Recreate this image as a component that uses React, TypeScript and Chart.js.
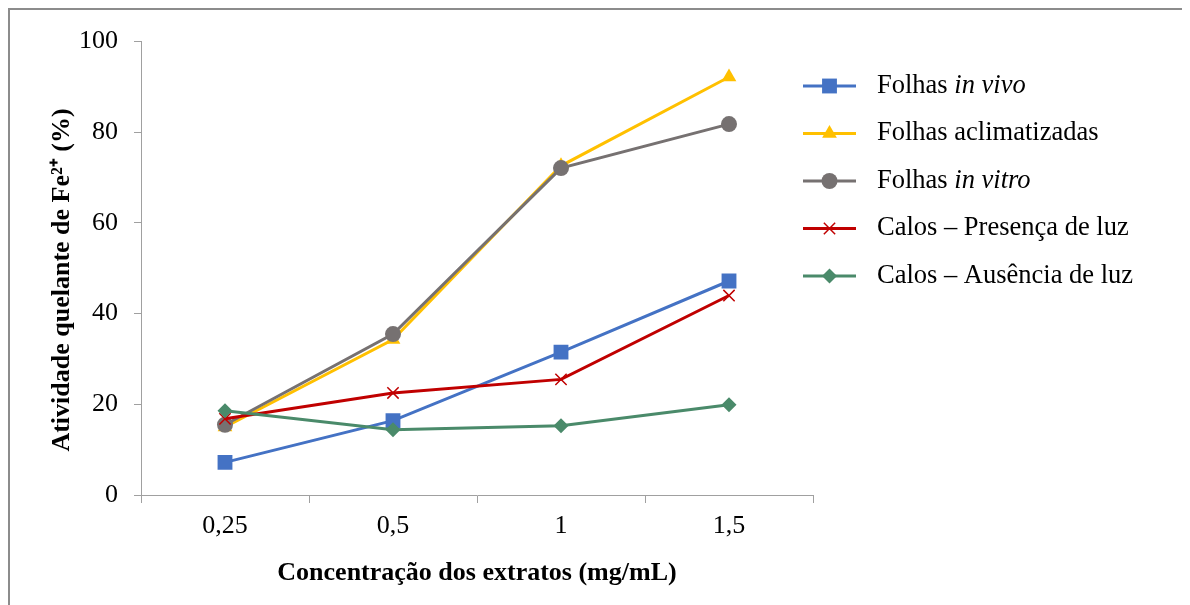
import React, { useEffect, useRef } from 'react';
import { Chart, registerables } from 'chart.js';

Chart.register(...registerables);

const categories = ['0,25', '0,5', '1', '1,5'];
const folhasInVivo = [7.2, 16.4, 31.5, 47.2];
const folhasAclimatizadas = [15.0, 34.3, 72.6, 92.2];
const folhasInVitro = [15.5, 35.5, 72.1, 81.8];
const calosPresenca = [16.8, 22.5, 25.5, 44.0];
const calosAusencia = [18.6, 14.4, 15.3, 19.9];

const yTicks = [0, 20, 40, 60, 80, 100];

const xTitle = 'Concentração dos extratos (mg/mL)';
const yTitle = 'Atividade quelante de Fe²⁺ (%)';

// legend label parts: [normal, italic]
const legendLabels: [string, string][] = [
  ['Folhas ', 'in vivo'],
  ['Folhas aclimatizadas', ''],
  ['Folhas ', 'in vitro'],
  ['Calos – Presença de luz', ''],
  ['Calos – Ausência de luz', ''],
];

const colors = ['#4472C4', '#FFC000', '#767171', '#C00000', '#4A8A6A'];
const styles = ['rect', 'triangle', 'circle', 'crossRot', 'rectRot'];
const radii = [10.5, 8.5, 8, 8, 7.5];

const FONT = '"Liberation Serif", "Times New Roman", serif';

function drawMarker(ctx: CanvasRenderingContext2D, style: string, x: number, y: number, r: number, color: string) {
  ctx.save();
  ctx.fillStyle = color;
  ctx.strokeStyle = color;
  ctx.beginPath();
  if (style === 'rect') {
    const s = Math.SQRT1_2 * r;
    ctx.rect(x - s, y - s, 2 * s, 2 * s);
    ctx.fill();
  } else if (style === 'triangle') {
    ctx.moveTo(x, y - r);
    ctx.lineTo(x + r * Math.sin(Math.PI / 3), y + r * 0.5);
    ctx.lineTo(x - r * Math.sin(Math.PI / 3), y + r * 0.5);
    ctx.closePath();
    ctx.fill();
  } else if (style === 'circle') {
    ctx.arc(x, y, r, 0, Math.PI * 2);
    ctx.fill();
  } else if (style === 'crossRot') {
    const d = r * Math.SQRT1_2;
    ctx.lineWidth = 1.5;
    ctx.moveTo(x - d, y - d);
    ctx.lineTo(x + d, y + d);
    ctx.moveTo(x - d, y + d);
    ctx.lineTo(x + d, y - d);
    ctx.stroke();
  } else if (style === 'rectRot') {
    ctx.moveTo(x, y - r);
    ctx.lineTo(x + r, y);
    ctx.lineTo(x, y + r);
    ctx.lineTo(x - r, y);
    ctx.closePath();
    ctx.fill();
  }
  ctx.restore();
}

const legendPlugin = {
  id: 'customLegend',
  afterDraw(chart: any) {
    const ctx: CanvasRenderingContext2D = chart.ctx;
    const lineX0 = 793;
    const lineX1 = 846;
    const textX = 867;
    const rowY0 = 76;
    const rowGap = 47.5;
    legendLabels.forEach((parts, i) => {
      const y = rowY0 + i * rowGap;
      ctx.save();
      ctx.strokeStyle = colors[i];
      ctx.lineWidth = 3;
      ctx.beginPath();
      ctx.moveTo(lineX0, y);
      ctx.lineTo(lineX1, y);
      ctx.stroke();
      ctx.restore();
      drawMarker(ctx, styles[i], (lineX0 + lineX1) / 2, y, radii[i], colors[i]);
      ctx.save();
      ctx.fillStyle = '#000';
      ctx.textBaseline = 'middle';
      ctx.textAlign = 'left';
      ctx.font = `26.5px ${FONT}`;
      ctx.fillText(parts[0], textX, y);
      const w = ctx.measureText(parts[0]).width;
      if (parts[1]) {
        ctx.font = `italic 26.5px ${FONT}`;
        ctx.fillText(parts[1], textX + w, y);
      }
      ctx.restore();
    });

    // y-axis title
    ctx.save();
    ctx.translate(52, 270);
    ctx.rotate(-Math.PI / 2);
    ctx.fillStyle = '#000';
    ctx.textAlign = 'center';
    ctx.textBaseline = 'middle';
    ctx.font = `bold 26px ${FONT}`;
    ctx.fillText(yTitle, 0, 0);
    ctx.restore();
  },
};

export default function App() {
  const ref = useRef<HTMLCanvasElement | null>(null);
  useEffect(() => {
    if (!ref.current) return;
    const series = [folhasInVivo, folhasAclimatizadas, folhasInVitro, calosPresenca, calosAusencia];
    const chart = new Chart(ref.current, {
      type: 'line',
      data: {
        labels: categories,
        datasets: series.map((d, i) => ({
          label: legendLabels[i].join(''),
          data: d,
          borderColor: colors[i],
          backgroundColor: colors[i],
          pointBackgroundColor: colors[i],
          pointBorderColor: colors[i],
          pointBorderWidth: styles[i] === 'crossRot' ? 1.5 : 0,
          pointStyle: styles[i] as any,
          pointRadius: radii[i],
          borderWidth: 3,
          tension: 0,
          order: series.length - i,
        })),
      },
      options: {
        animation: false,
        responsive: false,
        maintainAspectRatio: false,
        layout: { padding: { left: 38, top: 28, right: 377, bottom: 15 } },
        plugins: {
          legend: { display: false },
          tooltip: { enabled: false },
        },
        scales: {
          x: {
            offset: true,
            grid: { drawOnChartArea: false, drawTicks: true, tickLength: 8, offset: true, color: '#A0A0A0', lineWidth: 1 },
            border: { display: true, color: '#A0A0A0', width: 1 },
            ticks: { color: '#000', font: { family: FONT, size: 26 }, padding: 8, maxRotation: 0 },
            title: {
              display: true,
              text: xTitle,
              color: '#000',
              font: { family: FONT, size: 26, weight: 'bold' },
              padding: { top: 0, bottom: 1 },
            },
            afterFit: (s: any) => { s.height = 95; },
          },
          y: {
            min: 0,
            max: 100,
            afterBuildTicks: (s: any) => { s.ticks = yTicks.map((v) => ({ value: v })); },
            grid: { drawOnChartArea: false, drawTicks: true, tickLength: 7, color: '#A0A0A0', lineWidth: 1 },
            border: { display: true, color: '#A0A0A0', width: 1 },
            ticks: { color: '#000', font: { family: FONT, size: 26 }, padding: 16 },
            title: { display: false },
            afterFit: (s: any) => { s.width = 93; },
          },
        },
      },
      plugins: [legendPlugin],
    });
    return () => chart.destroy();
  }, []);
  return (
    <div
      style={{
        width: 1182,
        height: 597,
        boxSizing: 'border-box',
        borderTop: '2px solid #8C8C8C',
        borderLeft: '2px solid #8C8C8C',
        position: 'relative',
        background: '#fff',
      }}
    >
      <canvas ref={ref} width={1180} height={595} style={{ display: 'block', width: 1180, height: 595 }} />
    </div>
  );
}
